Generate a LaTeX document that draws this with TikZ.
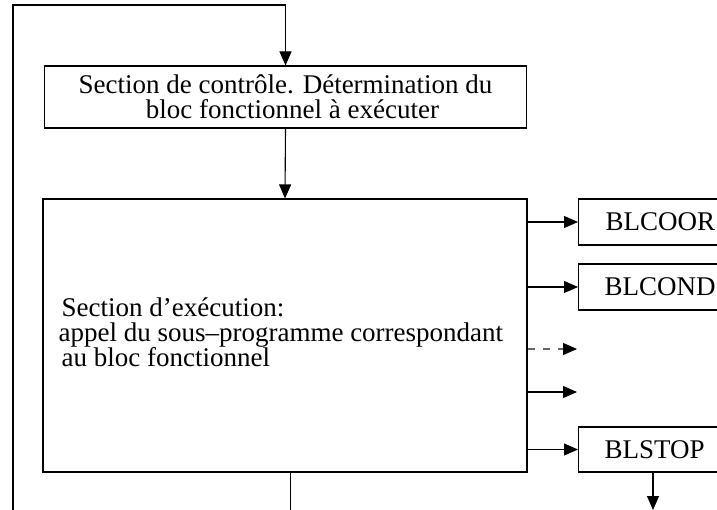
\documentclass[tikz,border=0pt]{standalone}
\usepackage{fontspec}
\setmainfont{Liberation Serif}
\usetikzlibrary{arrows.meta}
\begin{document}
\begin{tikzpicture}[x=1pt,y=-1pt,line width=1.1pt,
    every node/.style={font=\fontsize{27}{25}\selectfont},
    blk/.style={draw,rectangle,inner sep=0pt},
    flow/.style={-{Triangle[length=14pt,width=12pt]}},
    flowdash/.style={-{Triangle[length=14pt,width=12pt,black]},dash pattern=on 7pt off 8pt,draw=black!60}]
        \useasboundingbox (0,0) rectangle (717,510);
        \clip (0,0) rectangle (717,510);
        \node[blk,minimum width=482pt,minimum height=62pt,align=center] (ctrl) at (285.5,97) {Section de contrôle. Détermination du\\\hspace*{14pt}bloc fonctionnel à exécuter};
        \node[blk,minimum width=484pt,minimum height=273pt] (exec) at (285,335.5) {};
        \node[anchor=north west,inner sep=0pt,align=left] (exectxt) at (61,297) {Section d'exécution:\\\hspace*{-3pt}appel du sous--programme correspondant\\au bloc fonctionnel};
        \node[blk,anchor=west,minimum height=46pt,inner xsep=27pt] (coor) at (578,222) {BLCOOR};
        \node[blk,anchor=west,minimum height=46pt,inner xsep=26pt] (cond) at (578,287) {BLCOND};
        \node[blk,anchor=west,minimum height=45pt,inner xsep=26pt] (stop) at (578,449.5) {BLSTOP};
        \coordinate (top) at (13,5);
        \coordinate (loopL) at (13,520);
        \coordinate (loopB) at (290.5,520);
        \coordinate (d1) at (577,349);
        \coordinate (d2) at (577,392);
        \coordinate (stopend) at (653,510);
        \draw[flow] (loopL) -- (top) -| (ctrl.north);
        \draw[flow] (ctrl.south) -- (exec.north);
        \draw (exec.south -| loopB) -- (loopB);
        \draw[flow] (exec.east |- coor) -- (coor.west);
        \draw[flow] (exec.east |- cond) -- (cond.west);
        \draw[flowdash] (exec.east |- d1) -- (d1);
        \draw[flow] (exec.east |- d2) -- (d2);
        \draw[flow] (exec.east |- stop) -- (stop.west);
        \draw[flow] (stop.south -| stopend) -- (stopend);
\end{tikzpicture}
\end{document}
